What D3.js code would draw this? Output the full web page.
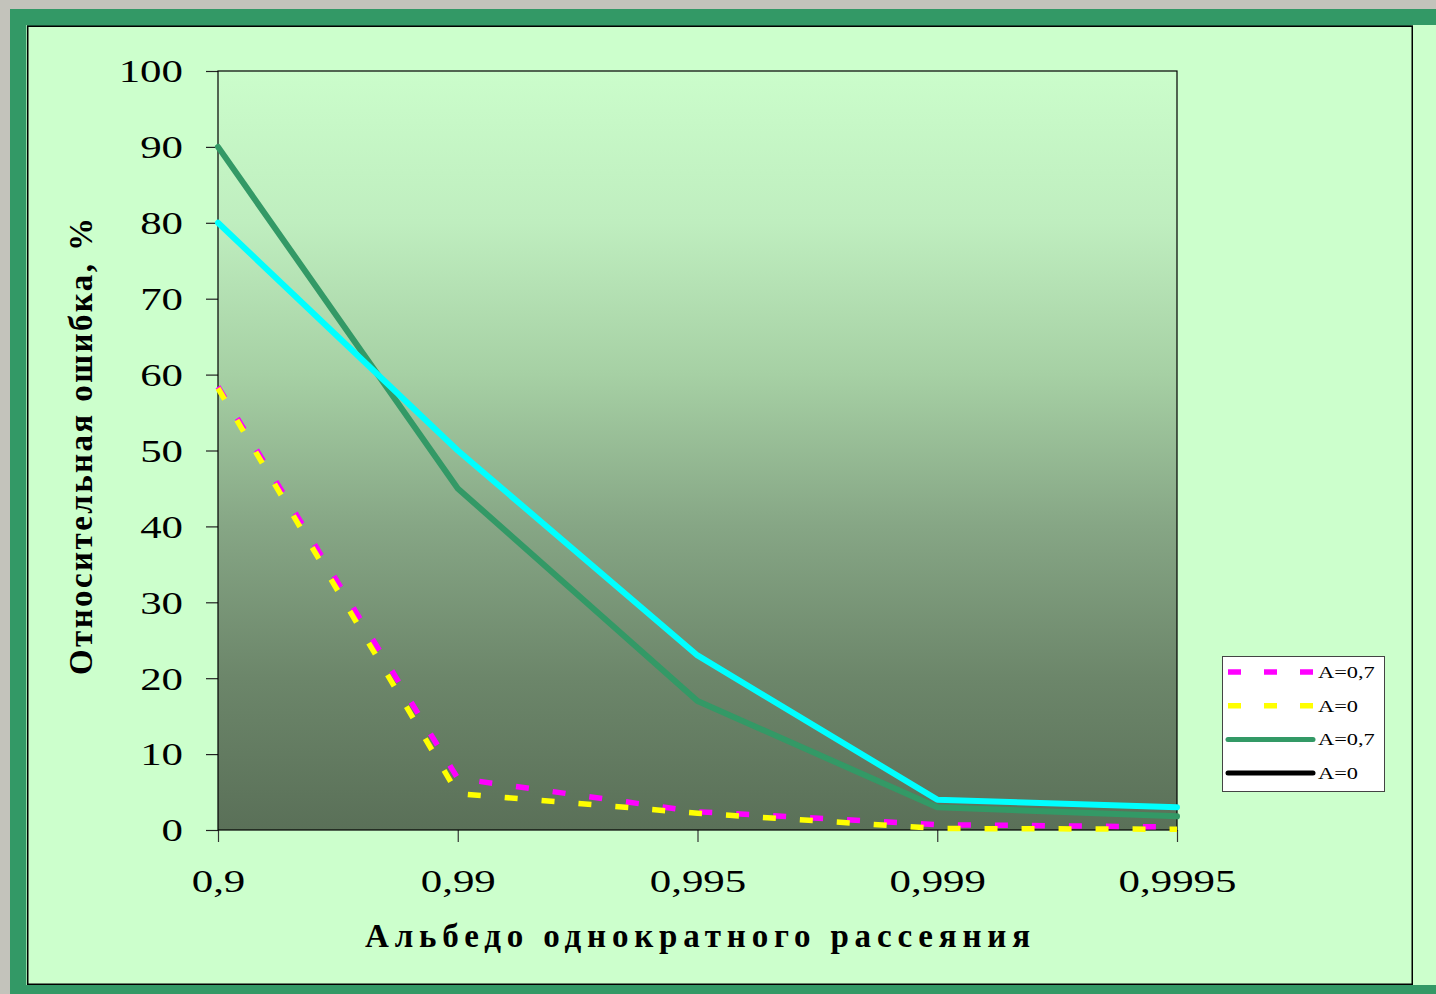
<!DOCTYPE html>
<html>
<head>
<meta charset="utf-8">
<script src="https://cdn.jsdelivr.net/npm/d3@7"></script>
<style>
  html, body { margin: 0; padding: 0; background: #c3c3bb; }
  svg { display: block; }
</style>
</head>
<body>
<svg id="chart" width="1436" height="994"></svg>
<script>
// Albedo of single scattering (x categories)
const albedo = ["0,9", "0,99", "0,995", "0,999", "0,9995"];
// Relative error, %
const dashedA07 = [58.4, 6.8, 2.4, 0.7, 0.4];
const dashedA0  = [58.2, 4.8, 2.2, 0.2, 0.1];
const solidA07  = [90, 45, 17, 3, 1.8];
const solidA0   = [80, 50, 23, 4, 3];
const yTicks = [0, 10, 20, 30, 40, 50, 60, 70, 80, 90, 100];
const legendLabels = ["A=0,7", "A=0", "A=0,7", "A=0"];

const svg = d3.select("#chart");
const W = 1436, H = 994;
const plot = { left: 218, right: 1177, top: 71, bottom: 830 };
const serif = "'Liberation Serif', 'Times New Roman', serif";
const stretch = 1.34;

// ---- frame: green slide border and light panel ----
svg.append("rect").attr("x", 10).attr("y", 9).attr("width", W - 10).attr("height", H - 9).attr("fill", "#339966");
svg.append("rect").attr("x", 1413).attr("y", 25).attr("width", W - 1413).attr("height", 960).attr("fill", "#ccffcc");
svg.append("line").attr("x1", 1412).attr("x2", 1412).attr("y1", 25).attr("y2", 985).attr("stroke", "#8aa88a").attr("stroke-width", 1);
svg.append("line").attr("x1", 26.5).attr("x2", 26.5).attr("y1", 25).attr("y2", 985).attr("stroke", "#99ddaa").attr("stroke-width", 1);
svg.append("rect").attr("x", 27.75).attr("y", 26.25).attr("width", 1384.5).attr("height", 958)
  .attr("fill", "#ccffcc").attr("stroke", "#000").attr("stroke-width", 1.5);

// ---- plot background gradient ----
const defs = svg.append("defs");
const grad = defs.append("linearGradient").attr("id", "plotBg")
  .attr("x1", 0).attr("y1", 0).attr("x2", 0).attr("y2", 1);
[[0, "#cbfdcb"], [0.2, "#bfeebf"], [0.4, "#a6d0a4"], [0.6, "#86a685"], [0.8, "#6c866a"], [1, "#5a7058"]]
  .forEach(([o, c]) => grad.append("stop").attr("offset", o).attr("stop-color", c));

svg.append("rect")
  .attr("x", plot.left).attr("y", plot.top)
  .attr("width", plot.right - plot.left).attr("height", plot.bottom - plot.top)
  .attr("fill", "url(#plotBg)");

// ---- scales ----
const x = d3.scalePoint().domain(albedo).range([plot.left, plot.right]);
const y = d3.scaleLinear().domain([0, 100]).range([plot.bottom, plot.top]);

// ---- axes ----
const yAxis = svg.append("g").attr("transform", `translate(${plot.left},0)`)
  .call(d3.axisLeft(y).tickValues(yTicks).tickSize(12).tickFormat(d3.format("d")));
yAxis.select(".domain").remove();
yAxis.selectAll(".tick line").attr("stroke", "#222").attr("stroke-width", 1.2);
yAxis.selectAll(".tick text")
  .attr("font-family", serif).attr("font-size", 32).attr("fill", "#000")
  .attr("text-anchor", "end")
  .attr("x", -35 / stretch).attr("dy", "0.34em")
  .attr("transform", `scale(${stretch},1)`);

const xAxis = svg.append("g").attr("transform", `translate(0,${plot.bottom})`)
  .call(d3.axisBottom(x).tickSize(12));
xAxis.select(".domain").remove();
xAxis.selectAll(".tick line").attr("stroke", "#333").attr("stroke-width", 1.2);
// labels are widened in place so each stays centered on its tick
xAxis.selectAll(".tick text")
  .attr("font-family", serif).attr("font-size", 32).attr("fill", "#000")
  .attr("text-anchor", "middle").attr("y", 62).attr("dy", 0).attr("x", 0)
  .attr("transform", `scale(${stretch},1)`);

// plot border
svg.append("rect")
  .attr("x", plot.left).attr("y", plot.top)
  .attr("width", plot.right - plot.left).attr("height", plot.bottom - plot.top)
  .attr("fill", "none").attr("stroke", "#000").attr("stroke-width", 1.2);

// ---- series ----
const line = d3.line().x((d, i) => x(albedo[i])).y(d => y(d));

const series = [
  { values: solidA07, color: "#339966", width: 6, dash: null },
  { values: solidA0, color: "#00ffff", width: 6, dash: null },
  { values: dashedA07, color: "#ff00ff", width: 5.5, dash: "13,24" },
  { values: dashedA0, color: "#ffff00", width: 5.5, dash: "13,24" }
];

series.forEach(s => {
  svg.append("path")
    .datum(s.values)
    .attr("d", line)
    .attr("fill", "none")
    .attr("stroke", s.color)
    .attr("stroke-width", s.width)
    .attr("stroke-linejoin", "round")
    .attr("stroke-linecap", s.dash ? "butt" : "round")
    .attr("stroke-dasharray", s.dash);
});

// ---- legend ----
const legendItems = [
  { label: legendLabels[0], color: "#ff00ff", dash: "13,23", cap: "butt", width: 5.5 },
  { label: legendLabels[1], color: "#ffff00", dash: "13,23", cap: "butt", width: 5.5 },
  { label: legendLabels[2], color: "#339966", dash: null, cap: "round", width: 5 },
  { label: legendLabels[3], color: "#000000", dash: null, cap: "round", width: 5 }
];
const lg = svg.append("g").attr("transform", "translate(1222,656)");
lg.append("rect").attr("x", 0.5).attr("y", 0.5).attr("width", 162).attr("height", 135)
  .attr("fill", "#ffffff").attr("stroke", "#444").attr("stroke-width", 1);
legendItems.forEach((it, i) => {
  const cy = 16 + i * 33.7;
  lg.append("line").attr("x1", 6).attr("x2", 91).attr("y1", cy).attr("y2", cy)
    .attr("stroke", it.color).attr("stroke-width", it.width)
    .attr("stroke-linecap", it.cap).attr("stroke-dasharray", it.dash);
  lg.append("text")
    .attr("transform", `translate(96,${cy + 6}) scale(1.4,1)`)
    .attr("font-family", serif).attr("font-size", 16).attr("fill", "#000")
    .text(it.label);
});

// ---- axis titles ----
svg.append("text")
  .attr("x", 365).attr("y", 947)
  .attr("font-family", serif).attr("font-size", 33).attr("font-weight", "bold").attr("fill", "#000")
  .attr("textLength", 665).attr("lengthAdjust", "spacing")
  .text("Альбедо однократного рассеяния");

svg.append("text")
  .attr("transform", "translate(92,675) rotate(-90)")
  .attr("x", 0).attr("y", 0)
  .attr("font-family", serif).attr("font-size", 33).attr("font-weight", "bold").attr("fill", "#000")
  .attr("textLength", 457).attr("lengthAdjust", "spacing")
  .text("Относительная ошибка, %");
</script>
</body>
</html>
